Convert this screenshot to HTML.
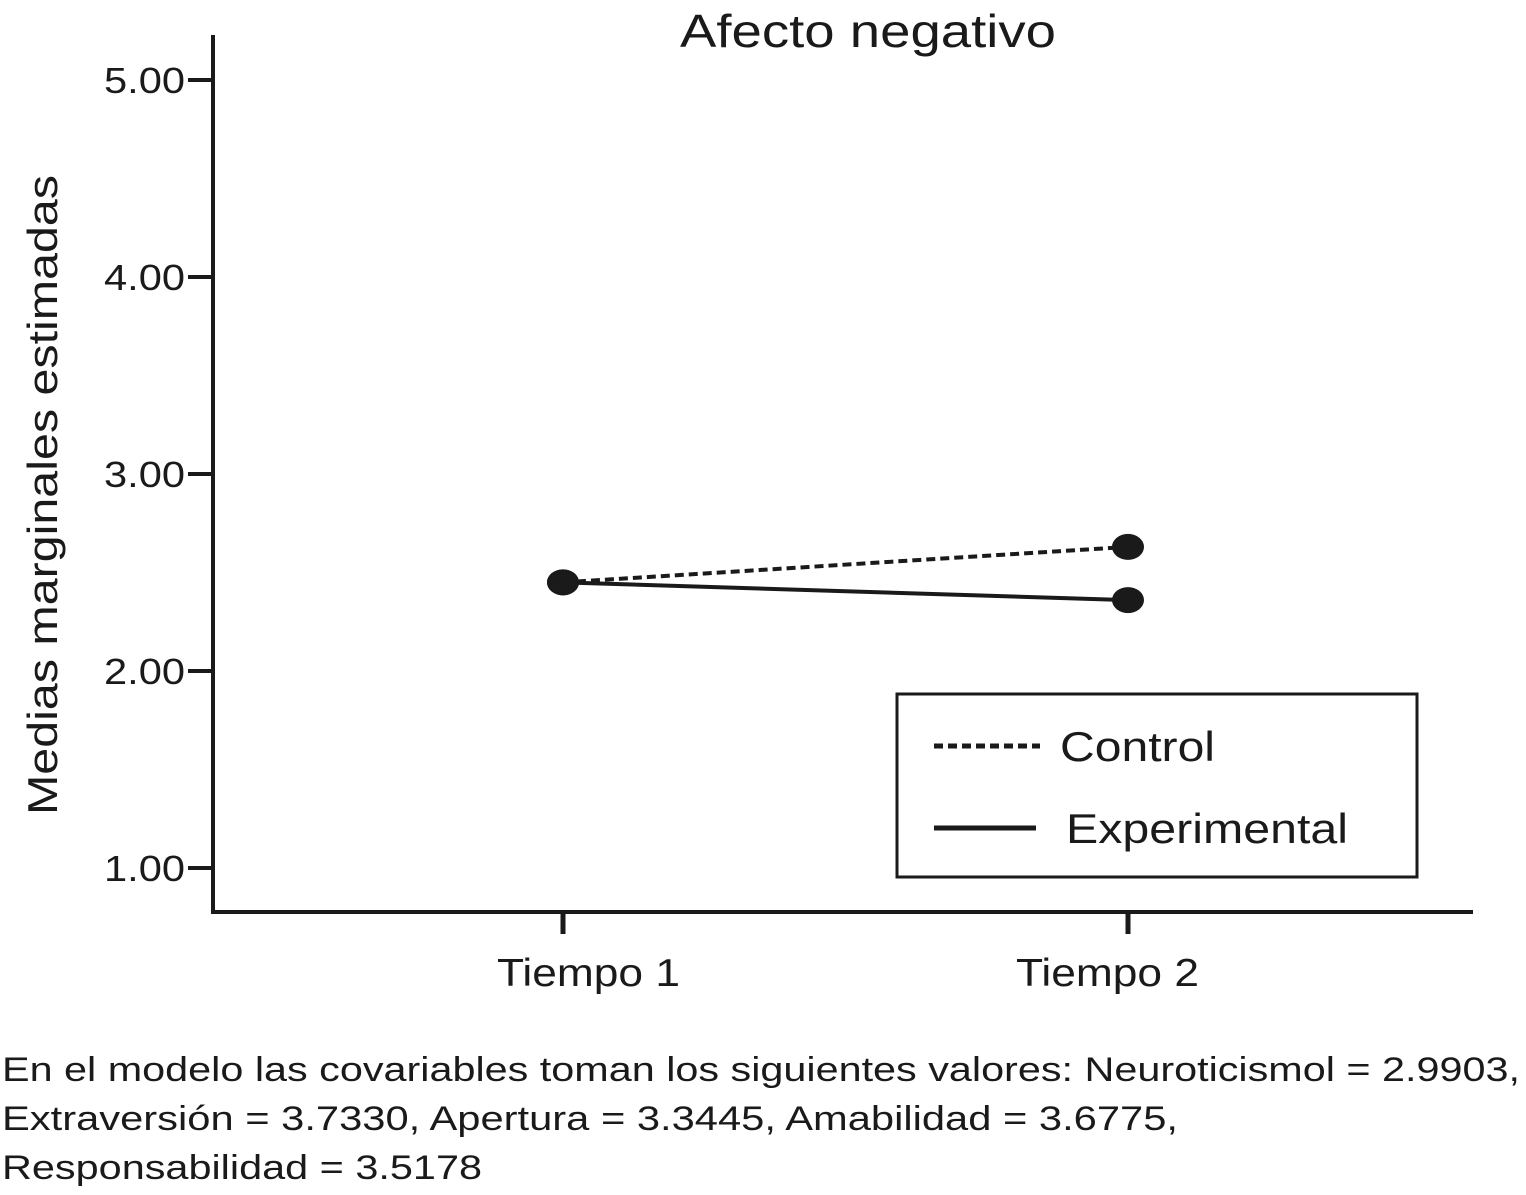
<!DOCTYPE html>
<html><head><meta charset="utf-8"><style>
html,body{margin:0;padding:0;background:#fff;}
svg text{font-family:"Liberation Sans",sans-serif;fill:#1a1a1a;}
</style></head><body>
<svg width="1526" height="1190" viewBox="0 0 1526 1190" xmlns="http://www.w3.org/2000/svg">
<g id="plot"></g>
<text x="680" y="47" font-size="46" textLength="376" lengthAdjust="spacingAndGlyphs">Afecto negativo</text>
<text transform="translate(57,495) rotate(-90)" x="-320" font-size="42" textLength="640" lengthAdjust="spacingAndGlyphs">Medias marginales estimadas</text>
<g>
<rect x="897" y="694" width="520" height="183" fill="#fff" stroke="#1a1a1a" stroke-width="3"/>
<line x1="934" y1="746" x2="1040" y2="746" stroke="#1a1a1a" stroke-width="5" stroke-dasharray="9,5"/>
<text x="1060" y="761" font-size="42" textLength="155" lengthAdjust="spacingAndGlyphs">Control</text>
<line x1="934" y1="828" x2="1036" y2="828" stroke="#1a1a1a" stroke-width="5"/>
<text x="1066" y="843" font-size="42" textLength="282" lengthAdjust="spacingAndGlyphs">Experimental</text>
</g>
<g font-size="34">
<text x="2" y="1081" textLength="1518" lengthAdjust="spacingAndGlyphs">En el modelo las covariables toman los siguientes valores: Neuroticismol = 2.9903,</text>
<text x="2" y="1130" textLength="1176" lengthAdjust="spacingAndGlyphs">Extraversión = 3.7330, Apertura = 3.3445, Amabilidad = 3.6775,</text>
<text x="2" y="1179" textLength="480" lengthAdjust="spacingAndGlyphs">Responsabilidad = 3.5178</text>
</g>
</svg>
<script>
const categories = ["Tiempo 1", "Tiempo 2"];
const controlValues = [2.45, 2.63];
const experimentalValues = [2.45, 2.36];
const yTicks = [1, 2, 3, 4, 5];
const yTickLabels = ["1.00", "2.00", "3.00", "4.00", "5.00"];

const NS = "http://www.w3.org/2000/svg";
const g = document.getElementById("plot");
function yScale(v){ return 868 - (v - 1) * 197; }
function xScale(i){ return 563 + i * 565; }
function mk(tag, attrs){ const e = document.createElementNS(NS, tag); for (const k in attrs) e.setAttribute(k, attrs[k]); g.appendChild(e); return e; }

let e = mk("line",{x1:213,y1:35,x2:213,y2:914,stroke:"#1a1a1a","stroke-width":4});


e = mk("line",{x1:211,y1:912,x2:1473,y2:912,stroke:"#1a1a1a","stroke-width":4});



yTicks.forEach((t,i)=>{
  const y = yScale(t);
  let l = mk("line",{x1:188,y1:y,x2:213,y2:y,stroke:"#1a1a1a","stroke-width":4});
  
  
  let tx = mk("text",{x:104,y:y+13,"font-size":36,textLength:81,lengthAdjust:"spacingAndGlyphs"});
  tx.textContent = yTickLabels[i];
  
  
});
categories.forEach((c,i)=>{
  const x = xScale(i);
  let l = mk("line",{x1:x,y1:912,x2:x,y2:934,stroke:"#1a1a1a","stroke-width":5});
  
  
  let tx = mk("text",{x:x-66-i*46,y:986,"font-size":39,textLength:183,lengthAdjust:"spacingAndGlyphs"});
  tx.textContent = c;
  
  
});

function series(vals, dashed, name){
  const pts = vals.map((v,i)=>xScale(i)+","+yScale(v)).join(" ");
  const attrs = {points:pts,fill:"none",stroke:"#1a1a1a","stroke-width":4};
  if (dashed) attrs["stroke-dasharray"] = "9,5";
  let p = mk("polyline", attrs);
  
  
  vals.forEach((v,i)=>{
    let c = mk("ellipse",{cx:xScale(i),cy:yScale(v),rx:16,ry:13,fill:"#1a1a1a"});
    
    
  });
}
series(experimentalValues, false, "experimental");
series(controlValues, true, "control");
</script>
</body></html>
